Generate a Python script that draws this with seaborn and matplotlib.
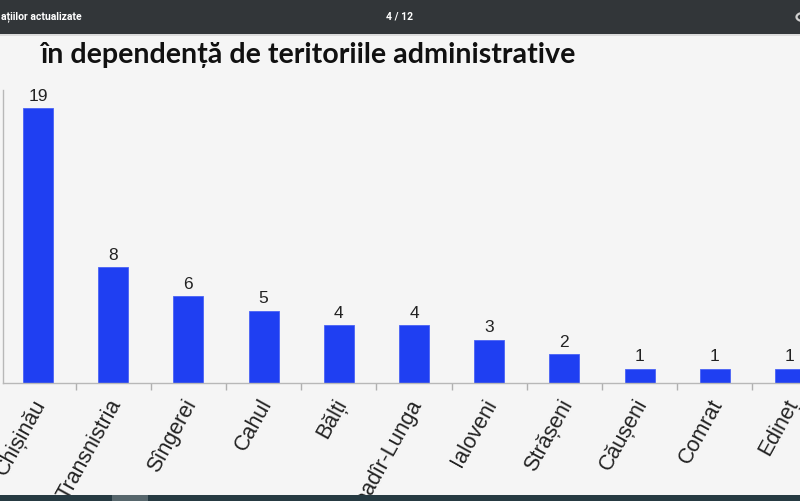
import matplotlib.pyplot as plt
import matplotlib.patches as mpatches
import matplotlib.transforms as mtransforms
import seaborn as sns
import pandas as pd

# data
categorii = ["Chișinău", "Transnistria", "Sîngerei", "Cahul", "Bălți", "Ceadîr-Lunga",
             "Ialoveni", "Strășeni", "Căușeni", "Comrat", "Edineț"]
valori = [19, 8, 6, 5, 4, 4, 3, 2, 1, 1, 1]

titlu = "în dependență de teritoriile administrative"
titlu_doc = "ațiilor actualizate"
pagina = "4 / 12"

df = pd.DataFrame({"teritoriu": categorii, "numar": valori})

sns.set_style("white")
plt.rcParams["font.family"] = ["Liberation Sans", "DejaVu Sans"]

W, H = 800, 501
fig = plt.figure(figsize=(W / 100, H / 100), dpi=100)
fig.patch.set_facecolor("#f5f5f5")

# axes placed in pixel coordinates (chart is cropped on the left and right)
x0, y_base, y_top = 3, 383, 90
ax = fig.add_axes([x0 / W, (H - y_base) / H, (W - x0) / W, (y_base - y_top) / H])
ax.set_facecolor("#f5f5f5")

sns.barplot(data=df, x="teritoriu", y="numar", color="#1f3ff2", width=0.4,
            saturation=1, ax=ax, edgecolor="#4a63f5", linewidth=0.6)

ax.bar_label(ax.containers[0], fmt="%d", padding=3, fontsize=12.5, color="#222222")

ax.set_xlabel("")
ax.set_ylabel("")
ax.set_yticks([])
ax.set_xticks(range(len(categorii)))
ax.set_xticklabels(categorii, rotation=61, ha="right", rotation_mode="anchor",
                   fontsize=15.5, color="#222222")
ax.set_xticks([i + 0.5 for i in range(-1, len(categorii))], minor=True)
ax.tick_params(axis="x", which="major", length=0, pad=9)
ax.tick_params(axis="x", which="minor", length=5, color="#b0b0b0", width=1, direction="out")
ax.xaxis.set_ticks_position("bottom")

# nudge the rotated labels a little to the left
shift = mtransforms.ScaledTranslation(-6 / 100, 0, fig.dpi_scale_trans)
for lbl in ax.get_xticklabels():
    lbl.set_transform(lbl.get_transform() + shift)

# limits after the ticks, so the ticks do not widen the view
px_per_cat = 75.2
ax.set_xlim(-0.5 + (x0 - 0.4) / px_per_cat, (W - 38) / px_per_cat)
ax.set_ylim(0, (y_base - y_top) / 14.47)

for s in ["top", "right"]:
    ax.spines[s].set_visible(False)
for s in ["left", "bottom"]:
    ax.spines[s].set_color("#b8b8b8")
    ax.spines[s].set_linewidth(1)

# slide title
fig.text(40 / W, 1 - 55 / H, titlu, fontsize=20.6, fontweight="bold", family=["Lato", "DejaVu Sans"],
         ha="left", va="center", color="#111111")

# pdf viewer toolbar at the top
fig.patches.append(mpatches.Rectangle((0, 1 - 34 / H), 1, 34 / H, transform=fig.transFigure,
                                      facecolor="#323639", edgecolor="none", zorder=5))
fig.patches.append(mpatches.Rectangle((0, 1 - 36 / H), 1, 2 / H, transform=fig.transFigure,
                                      facecolor="#dcdcdc", edgecolor="none", zorder=5))
fig.text(1 / W, 1 - 17 / H, titlu_doc, fontsize=7.5, fontweight="bold", color="white",
         family=["Roboto", "DejaVu Sans"], ha="left", va="center", zorder=6)
fig.text(400 / W, 1 - 17 / H, pagina, fontsize=7.5, fontweight="bold", color="white",
         family=["Roboto", "DejaVu Sans"], ha="center", va="center", zorder=6)
fig.patches.append(mpatches.Circle((803 / W, 1 - 17 / H), 6.5 / W, transform=fig.transFigure,
                                   facecolor="none", edgecolor="#d0d0d0", linewidth=1.6, zorder=6))

# scrollbar strip at the bottom
fig.patches.append(mpatches.Rectangle((0, 0), 1, 6 / H, transform=fig.transFigure,
                                      facecolor="#263a42", edgecolor="none", zorder=5))
fig.patches.append(mpatches.Rectangle((112 / W, 0), 36 / W, 6 / H, transform=fig.transFigure,
                                      facecolor="#56666c", edgecolor="none", zorder=6))

fig.savefig("out.png", dpi=100, facecolor=fig.get_facecolor())
